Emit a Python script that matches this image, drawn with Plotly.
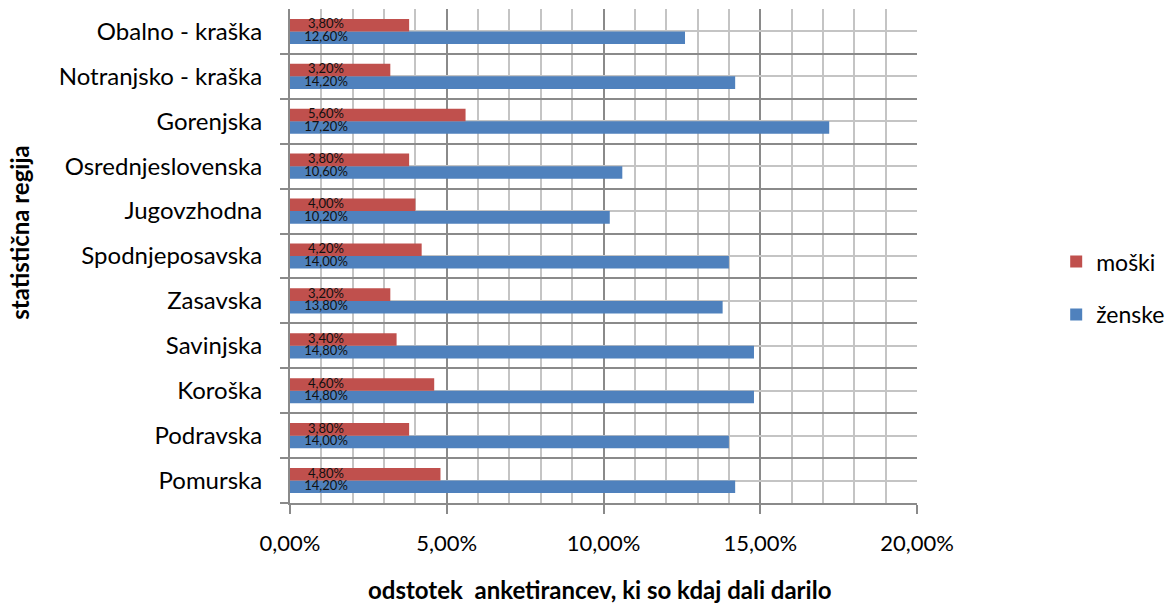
import plotly.graph_objects as go

# Statistical regions, bottom to top
regions = [
    "Pomurska",
    "Podravska",
    "Koroška",
    "Savinjska",
    "Zasavska",
    "Spodnjeposavska",
    "Jugovzhodna",
    "Osrednjeslovenska",
    "Gorenjska",
    "Notranjsko - kraška",
    "Obalno - kraška",
]

# Share of respondents who have ever given a gift (%)
moski = [4.8, 3.8, 4.6, 3.4, 3.2, 4.2, 4.0, 3.8, 5.6, 3.2, 3.8]
zenske = [14.2, 14.0, 14.8, 14.8, 13.8, 14.0, 10.2, 10.6, 17.2, 14.2, 12.6]

x_ticks = [0, 5, 10, 15, 20]
x_tick_text = ["0,00%", "5,00%", "10,00%", "15,00%", "20,00%"]

RED = "#C0504D"
BLUE = "#4F81BD"
GRID_MAJOR = "#8A8A8A"
GRID_MINOR = "#C4C4C4"
FONT = "Lato, Open Sans, sans-serif"

BARGAP = 0.44
HALF = (1 - BARGAP) / 4  # offset of each bar centre from the category centre
LABEL_X = 1.15           # horizontal anchor of value labels (axis units)

pos = list(range(len(regions)))


def pct(v):
    return f"{v:.2f}".replace(".", ",") + "%"


fig = go.Figure()

fig.add_trace(go.Bar(
    name="ženske", y=pos, x=zenske, orientation="h",
    marker=dict(color=BLUE, line=dict(width=0)),
    legendgroup="z", legendrank=2, hoverinfo="skip",
))
fig.add_trace(go.Bar(
    name="moški", y=pos, x=moski, orientation="h",
    marker=dict(color=RED, line=dict(width=0)),
    legendgroup="m", legendrank=1, hoverinfo="skip",
))

# value labels near the base of each bar
fig.add_trace(go.Scatter(
    x=[LABEL_X] * len(pos), y=[p - HALF for p in pos],
    text=[pct(v) for v in zenske], mode="text",
    textposition="middle center",
    textfont=dict(family=FONT, size=13, color="#111111"),
    showlegend=False, hoverinfo="skip",
))
fig.add_trace(go.Scatter(
    x=[LABEL_X] * len(pos), y=[p + HALF for p in pos],
    text=[pct(v) for v in moski], mode="text",
    textposition="middle center",
    textfont=dict(family=FONT, size=13, color="#111111"),
    showlegend=False, hoverinfo="skip",
))

fig.update_layout(
    width=1167, height=610,
    margin=dict(l=290, r=250, t=9, b=107, autoexpand=False),
    paper_bgcolor="white", plot_bgcolor="white",
    barmode="group", bargap=BARGAP, bargroupgap=0,
    font=dict(family=FONT, size=22, color="#000000"),
    showlegend=True,
    legend=dict(
        x=1.222, y=0.435, xanchor="left", yanchor="middle",
        traceorder="grouped", tracegroupgap=20,
        font=dict(family=FONT, size=23, color="#000000"),
        itemwidth=30, bgcolor="rgba(0,0,0,0)",
    ),
    xaxis=dict(
        range=[0, 20], tickvals=x_ticks, ticktext=x_tick_text,
        showgrid=True, gridcolor=GRID_MAJOR, gridwidth=2,
        minor=dict(dtick=1, tick0=0, showgrid=True,
                   gridcolor=GRID_MINOR, gridwidth=2, ticks=""),
        showline=True, linecolor=GRID_MAJOR, linewidth=2,
        ticks="outside", ticklen=9, tickwidth=2, tickcolor=GRID_MAJOR,
        ticklabelstandoff=11, zeroline=False, fixedrange=True,
        tickfont=dict(family=FONT, size=22, color="#000000"),
    ),
    yaxis=dict(
        range=[-0.5, 10.5], tickvals=pos, ticktext=regions,
        showgrid=True, gridcolor=GRID_MINOR, gridwidth=2,
        ticks="",
        minor=dict(tickmode="array",
                   tickvals=[p - 0.5 for p in pos],
                   showgrid=True, gridcolor=GRID_MAJOR, gridwidth=2,
                   ticks="outside", ticklen=8, tickwidth=2,
                   tickcolor=GRID_MAJOR),
        showline=True, linecolor=GRID_MAJOR, linewidth=2,
        ticklabelstandoff=21, zeroline=False, fixedrange=True,
        tickfont=dict(family=FONT, size=24, color="#000000"),
    ),
    annotations=[
        dict(text="<b>statistična regija</b>", xref="paper", yref="paper",
             x=-270 / 627, y=0.547, textangle=-90, showarrow=False,
             xanchor="center", yanchor="middle",
             font=dict(family=FONT, size=24, color="#000000")),
        dict(text="<b>odstotek  anketirancev, ki so kdaj dali darilo</b>",
             xref="paper", yref="paper", x=0.493, y=-0.176,
             showarrow=False, xanchor="center", yanchor="middle",
             font=dict(family=FONT, size=24, color="#000000")),
    ],
)

fig.write_html("out.html")
